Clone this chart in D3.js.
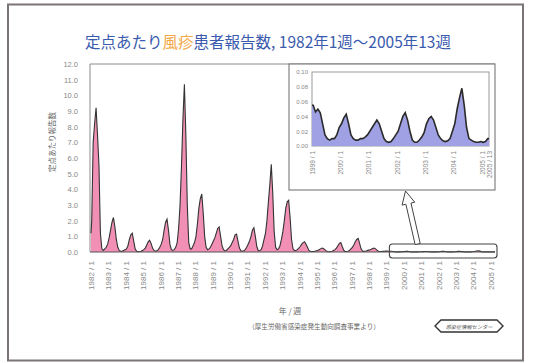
<!DOCTYPE html>
<html><head><meta charset="utf-8">
<script src="https://cdn.jsdelivr.net/npm/d3@7"></script>
<style>html,body{margin:0;padding:0;background:#fff;}svg{display:block;}</style>
</head><body>
<svg id="c" width="534" height="363"></svg>
<script>
// ---- data (monthly rates per sentinel site) ----
const rate1982to1987 = [
  2.0,7.0,8.2,9.2,7.5,5.5,1.2,0.2,0.1,0.2,0.3,0.5,      // 1982
  0.9,1.4,1.9,2.2,1.6,0.8,0.3,0.1,0.05,0.05,0.1,0.15,   // 1983
  0.2,0.4,0.8,1.1,1.2,0.7,0.2,0.05,0.02,0.03,0.05,0.1,  // 1984
  0.15,0.25,0.45,0.65,0.75,0.55,0.25,0.1,0.05,0.08,0.15,0.3, // 1985
  0.5,0.8,1.4,1.9,2.1,1.4,0.5,0.15,0.1,0.15,0.3,0.6,    // 1986
  1.5,3.0,5.5,8.5,10.7,7.5,3.0,0.6,0.2,0.2,0.4,0.6      // 1987
];
const rate1988to1993 = [
  1.0,1.8,2.8,3.4,3.7,2.5,1.0,0.3,0.15,0.2,0.3,0.5,     // 1988
  0.7,0.9,1.2,1.5,1.6,1.0,0.4,0.15,0.08,0.1,0.2,0.3,    // 1989
  0.4,0.6,0.8,1.1,1.15,0.7,0.25,0.08,0.05,0.08,0.15,0.3, // 1990
  0.5,0.7,1.0,1.4,1.55,1.0,0.35,0.1,0.08,0.15,0.4,0.8,  // 1991
  1.2,2.0,3.2,4.3,5.6,3.8,1.3,0.3,0.15,0.2,0.4,0.8,     // 1992
  1.3,2.0,2.8,3.2,3.3,2.2,0.8,0.2,0.1,0.1,0.15,0.25     // 1993
];
const rate1994to1998 = [
  0.35,0.5,0.6,0.66,0.5,0.3,0.1,0.05,0.03,0.03,0.05,0.08, // 1994
  0.1,0.15,0.2,0.25,0.22,0.15,0.07,0.03,0.02,0.03,0.05,0.1, // 1995
  0.15,0.25,0.4,0.55,0.6,0.35,0.12,0.04,0.03,0.05,0.1,0.2,  // 1996
  0.3,0.45,0.65,0.8,0.87,0.55,0.2,0.06,0.04,0.05,0.08,0.12, // 1997
  0.13,0.17,0.22,0.25,0.2,0.12,0.05,0.03,0.03,0.04,0.05,0.06 // 1998
];
const rate1999to2005 = [
  0.055,0.046,0.05,0.045,0.03,0.015,0.01,0.008,0.01,0.01,0.015,0.025, // 1999
  0.03,0.038,0.043,0.03,0.015,0.01,0.008,0.008,0.01,0.01,0.012,0.015, // 2000
  0.02,0.025,0.03,0.035,0.03,0.02,0.01,0.006,0.005,0.006,0.01,0.015,  // 2001
  0.02,0.03,0.04,0.045,0.035,0.02,0.008,0.005,0.005,0.008,0.012,0.018, // 2002
  0.03,0.037,0.04,0.035,0.025,0.015,0.01,0.007,0.006,0.007,0.01,0.02,  // 2003
  0.03,0.05,0.065,0.078,0.055,0.025,0.01,0.008,0.006,0.005,0.005,0.006, // 2004
  0.005,0.006,0.01                                                      // 2005 (to wk 13)
];
const mainYearTicks = d3.range(1982, 2006);
const insetYearTicks = [1999, 2000, 2001, 2002, 2003, 2004, 2005];
const mainYTicks = d3.range(0, 13, 1);
const insetYTicks = [0, 0.02, 0.04, 0.06, 0.08, 0.10];
const startYear = 1982, endYear = 2005 + 13/52;
const insetStart = 1999;

const titleParts = [["定点あたり", "#3a5aae"], ["風疹", "#f2a848"], ["患者報告数, 1982年1週～2005年13週", "#3a5aae"]];
const yLabel = "定点あたり報告数";
const xLabel = "年 / 週";
const sourceText = "（厚生労働省感染症発生動向調査事業より）";
const logoText = "感染症情報センター";

// ---- drawing ----
const svg = d3.select("#c");
const JP = "'Noto Sans CJK JP','Noto Sans',sans-serif";
const NUM = "'Liberation Sans','DejaVu Sans',sans-serif";

svg.append("rect").attr("x", 8).attr("y", 4.5).attr("width", 515).attr("height", 356)
  .attr("fill", "#fff").attr("stroke", "#7a7474").attr("stroke-width", 2);

// title
const t = svg.append("text").attr("x", 268).attr("y", 48).attr("text-anchor", "middle")
  .attr("font-family", JP).attr("font-size", 15.5).attr("font-weight", 400);
titleParts.forEach(p => t.append("tspan").attr("fill", p[1]).text(p[0]));

const mainSeries = rate1982to1987.concat(rate1988to1993, rate1994to1998, rate1999to2005)
  .map((v, i) => ({t: startYear + (i + 0.5) / 12, v}));
const insetSeries = rate1999to2005.map((v, i) => ({t: insetStart + (i + 0.5) / 12, v}));

const x = d3.scaleLinear().domain([startYear, endYear]).range([91, 495]);
const y = d3.scaleLinear().domain([0, 12]).range([252, 64]);

// frame lines (top + left)
svg.append("line").attr("x1", 90).attr("x2", 495).attr("y1", 64).attr("y2", 64).attr("stroke", "#8a8a8a");
svg.append("line").attr("x1", 90).attr("x2", 90).attr("y1", 64).attr("y2", 252).attr("stroke", "#8a8a8a");

const mainPts = [{t: startYear, v: mainSeries[0].v * 0.6}].concat(mainSeries, [{t: endYear, v: mainSeries[mainSeries.length - 1].v}]);
svg.append("path").datum(mainPts)
  .attr("d", d3.area().x(d => x(d.t)).y0(y(0)).y1(d => y(d.v)))
  .attr("fill", "#f190b4");
svg.append("path").datum(mainPts)
  .attr("d", d3.line().x(d => x(d.t)).y(d => y(d.v)))
  .attr("fill", "none").attr("stroke", "#333").attr("stroke-width", 1.1);
svg.append("line").attr("x1", 90).attr("x2", 495).attr("y1", y(0)).attr("y2", y(0)).attr("stroke", "#555");

// y axis
const yAx = svg.append("g").attr("transform", "translate(78,0)")
  .call(d3.axisLeft(y).tickValues(mainYTicks).tickFormat(d3.format(".1f")).tickSize(0).tickPadding(0));
yAx.select(".domain").remove();
yAx.selectAll("text").attr("font-family", NUM).attr("font-size", 7.5).attr("fill", "#888");

// x axis labels
const xAx = svg.append("g").attr("transform", `translate(0,${y(0) + 9})`)
  .call(d3.axisBottom(x).tickValues(mainYearTicks).tickFormat(d => `${d} / 1`).tickSize(0).tickPadding(0));
xAx.select(".domain").remove();
xAx.selectAll("text").attr("font-family", NUM).attr("font-size", 8).attr("fill", "#888")
  .attr("text-anchor", "end").attr("transform", "rotate(-90)").attr("dx", 0).attr("dy", "0.32em").attr("y", 0).attr("x", 0);

svg.append("text").attr("x", 53).attr("y", 142).attr("transform", "rotate(-90,53,142)")
  .attr("text-anchor", "middle").attr("dominant-baseline", "middle")
  .attr("font-family", JP).attr("font-size", 7.5).attr("fill", "#666").text(yLabel);

svg.append("text").attr("x", 290).attr("y", 314).attr("text-anchor", "middle")
  .attr("font-family", JP).attr("font-size", 8).attr("fill", "#666").text(xLabel);
svg.append("text").attr("x", 314).attr("y", 329).attr("text-anchor", "middle")
  .attr("font-family", JP).attr("font-size", 6.6).attr("fill", "#666").text(sourceText);

// logo hexagon
svg.append("polygon").attr("points", "435,326 441,320 497,320 503,326 497,332 441,332")
  .attr("fill", "#fff").attr("stroke", "#333").attr("stroke-width", 1.4);
svg.append("text").attr("x", 469).attr("y", 328.5).attr("text-anchor", "middle")
  .attr("font-family", JP).attr("font-size", 5.2).attr("font-style", "italic").attr("fill", "#555").text(logoText);

// highlight box over 1999-2005
svg.append("rect").attr("x", x(insetStart) + 3).attr("y", y(0) - 8).attr("width", x(endYear) - x(insetStart) - 1)
  .attr("height", 14).attr("rx", 3).attr("fill", "none").attr("stroke", "#444").attr("stroke-width", 1.1);

// inset
const ib = {x0: 289, y0: 64, x1: 495, y1: 190};
svg.append("rect").attr("x", ib.x0).attr("y", ib.y0).attr("width", ib.x1 - ib.x0).attr("height", ib.y1 - ib.y0)
  .attr("fill", "#fff").attr("stroke", "#777").attr("stroke-width", 1.1);
const xi = d3.scaleLinear().domain([insetStart, endYear]).range([312, 489]);
const yi = d3.scaleLinear().domain([0, 0.10]).range([146, 72]);
svg.append("rect").attr("x", 312).attr("y", 72).attr("width", 177).attr("height", 74)
  .attr("fill", "#fff").attr("stroke", "#999");
const insetPts = [{t: insetStart, v: insetSeries[0].v}].concat(insetSeries, [{t: endYear, v: insetSeries[insetSeries.length - 1].v}]);
svg.append("path").datum(insetPts)
  .attr("d", d3.area().x(d => xi(d.t)).y0(yi(0)).y1(d => yi(d.v)))
  .attr("fill", "#a0a0e4");
svg.append("path").datum(insetPts)
  .attr("d", d3.line().x(d => xi(d.t)).y(d => yi(d.v)))
  .attr("fill", "none").attr("stroke", "#2a2a2a").attr("stroke-width", 1.6);
const yiAx = svg.append("g").attr("transform", "translate(308,0)")
  .call(d3.axisLeft(yi).tickValues(insetYTicks).tickFormat(d3.format(".2f")).tickSize(0).tickPadding(0));
yiAx.select(".domain").remove();
yiAx.selectAll("text").attr("font-family", NUM).attr("font-size", 6).attr("fill", "#888");
const xiAx = svg.append("g").attr("transform", "translate(0,151)")
  .call(d3.axisBottom(xi).tickValues(insetYearTicks.concat([endYear]))
    .tickFormat(d => d === endYear ? "2005 / 13" : `${d} / 1`).tickSize(0).tickPadding(0));
xiAx.select(".domain").remove();
xiAx.selectAll("text").attr("font-family", NUM).attr("font-size", 6.5).attr("fill", "#888")
  .attr("text-anchor", "end").attr("transform", "rotate(-90)").attr("dy", "0.32em").attr("y", 0).attr("x", 0);

// hollow arrow from highlight box to inset
const base = [x(2000.8), y(0) - 8], tip = [x(2000.1), ib.y1 + 1];
const dx = tip[0] - base[0], dy = tip[1] - base[1], L = Math.hypot(dx, dy);
const ux = dx / L, uy = dy / L, nx = -uy, ny = ux;
const sw = 2.6, hw = 6.5, hl = 13;
const hb = [tip[0] - ux * hl, tip[1] - uy * hl];
const P = (p, k) => [p[0] + nx * k, p[1] + ny * k];
const arrowPts = [P(base, sw), P(hb, sw), P(hb, hw), tip, P(hb, -hw), P(hb, -sw), P(base, -sw)];
svg.append("polygon").attr("points", arrowPts.map(p => p.join(",")).join(" "))
  .attr("fill", "#fff").attr("stroke", "#444").attr("stroke-width", 1);
</script>
</body></html>
